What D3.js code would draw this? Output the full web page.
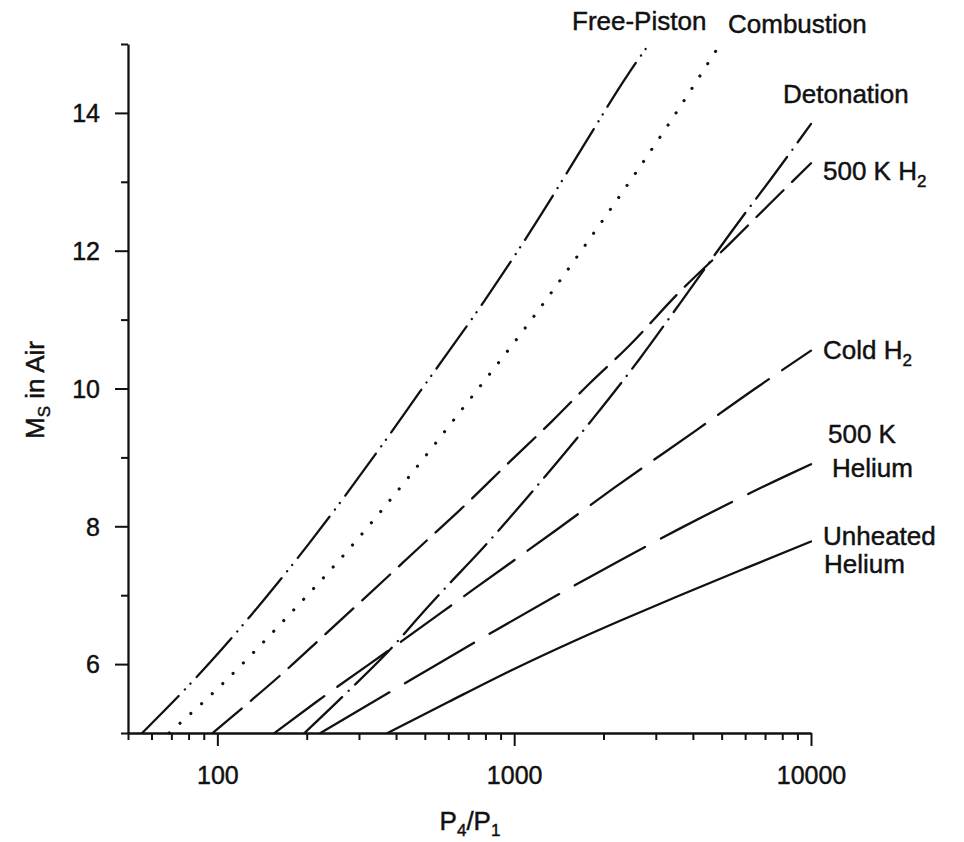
<!DOCTYPE html>
<html><head><meta charset="utf-8">
<script src="https://cdn.jsdelivr.net/npm/d3@7"></script>
<style>
body{margin:0;background:#fff}
text{font-family:"Liberation Sans",Arial,sans-serif;fill:#111;stroke:#111;stroke-width:0.45px}
</style>
</head><body>
<svg id="chart" width="964" height="842"></svg>
<script>
// ---- data (P4/P1 vs shock Mach number Ms in air) ----
const freePistonP = [55.8, 95.2, 129.9, 204.4, 366, 480.6, 796, 1202, 1705, 2419, 2849];
const freePistonM = [5, 6.04, 6.71, 7.76, 9.23, 9.95, 11.28, 12.45, 13.51, 14.56, 15.0];

const combustionP = [68.8, 101.6, 170.6, 279, 433, 665, 1130, 1921, 3354, 4946];
const combustionM = [5, 5.67, 6.67, 7.68, 8.67, 9.69, 10.97, 12.35, 13.87, 15.0];

const detonationP = [196.6, 271.9, 400.9, 474.2, 614.6, 719.6, 1269, 1848, 2656, 3624, 5778, 7295, 10000];
const detonationM = [5, 5.58, 6.31, 6.67, 7.20, 7.51, 8.72, 9.57, 10.44, 11.24, 12.45, 13.03, 13.84];

const h2HotP = [96.4, 125, 168.3, 226.6, 371, 480.6, 672.9, 952, 1337, 1801, 2425, 3624, 5346, 7181, 10000];
const h2HotM = [5, 5.41, 5.89, 6.40, 7.25, 7.70, 8.28, 8.91, 9.52, 10.08, 10.61, 11.41, 12.11, 12.66, 13.27];

const h2ColdP = [155.7, 215.3, 417, 727, 1390, 2159, 4126, 6493, 10000];
const h2ColdM = [5, 5.45, 6.33, 7.08, 7.95, 8.55, 9.40, 10.00, 10.55];

const heHotP = [222.6, 468.4, 849.3, 1565, 3624, 8409, 10000];
const heHotM = [5, 5.82, 6.47, 7.12, 7.97, 8.75, 8.90];

const heColdP = [374.7, 600, 1000, 1600, 2274, 3624, 6000, 10000];
const heColdM = [5, 5.45, 5.93, 6.34, 6.63, 7.00, 7.39, 7.78];

const xTickValues = [50,60,70,80,90,100,200,300,400,500,600,700,800,900,1000,2000,3000,4000,5000,6000,7000,8000,9000,10000];
const xMajor = [100, 1000, 10000];
const yTickValues = [5,6,7,8,9,10,11,12,13,14,15];
const yMajor = [6, 8, 10, 12, 14];

const series = [
  {name:"Free-Piston", P:freePistonP, M:freePistonM, dash:"52 9 0.1 8 0.1 9", w:2.3},
  {name:"Combustion", P:combustionP, M:combustionM, dash:"0.1 14.5", w:3.1},
  {name:"Detonation", P:detonationP, M:detonationM, dash:"52 9 0.1 9", w:2.3},
  {name:"500 K H2", P:h2HotP, M:h2HotM, dash:"38 12", w:2.3},
  {name:"Cold H2", P:h2ColdP, M:h2ColdM, dash:"62 16", w:2.3},
  {name:"500 K Helium", P:heHotP, M:heHotM, dash:"80 18", w:2.3},
  {name:"Unheated Helium", P:heColdP, M:heColdM, dash:null, w:2.3}
];

// ---- drawing ----
const svg = d3.select("#chart");
const x = d3.scaleLog().domain([50, 10000]).range([128, 811]);
const y = d3.scaleLinear().domain([5, 15]).range([733, 44]);

const line = d3.line().x(d => x(d[0])).y(d => y(d[1])).curve(d3.curveMonotoneX);

svg.append("g").selectAll("path").data(series).join("path")
  .attr("d", s => line(s.P.map((p, i) => [p, s.M[i]])))
  .attr("fill", "none")
  .attr("stroke", "#111")
  .attr("stroke-width", s => s.w)
  .attr("stroke-linecap", "round")
  .attr("stroke-dasharray", s => s.dash);

// x axis
const gx = svg.append("g").attr("transform", "translate(0,733)")
  .call(d3.axisBottom(x).tickValues(xTickValues).tickSizeInner(7).tickSizeOuter(0)
    .tickFormat(d => xMajor.includes(d) ? d3.format("d")(d) : ""));
gx.select(".domain").attr("stroke", "#111").attr("stroke-width", 2.3);
gx.selectAll(".tick line").attr("stroke", "#111").attr("stroke-width", 2)
  .attr("y2", d => xMajor.includes(d) ? 13 : 7);
gx.selectAll(".tick text").attr("y", 51).attr("dy", 0)
  .style("font-size", "25px").attr("fill", "#111").attr("font-family", null);

// y axis
const gy = svg.append("g").attr("transform", `translate(${x(50)},0)`)
  .call(d3.axisLeft(y).tickValues(yTickValues).tickSizeInner(6).tickSizeOuter(0)
    .tickFormat(d => yMajor.includes(d) ? d : ""));
gy.select(".domain").attr("stroke", "#111").attr("stroke-width", 2.3);
gy.selectAll(".tick line").attr("stroke", "#111").attr("stroke-width", 2)
  .attr("x2", d => yMajor.includes(d) ? -13 : -7);
gy.selectAll(".tick text").attr("x", -28).attr("dy", "0.35em")
  .style("font-size", "25px").attr("fill", "#111").attr("font-family", null);

// axis titles
const xt = svg.append("text").attr("x", 470).attr("y", 830).attr("text-anchor", "middle")
  .style("font-size", "26px");
xt.append("tspan").text("P");
xt.append("tspan").text("4").attr("dy", 6).style("font-size", "17px");
xt.append("tspan").text("/P").attr("dy", -6);
xt.append("tspan").text("1").attr("dy", 6).style("font-size", "17px");

const yt = svg.append("text").attr("transform", "translate(44,390) rotate(-90)")
  .attr("text-anchor", "middle").style("font-size", "26px");
yt.append("tspan").text("M");
yt.append("tspan").text("S").attr("dy", 6).style("font-size", "17px");
yt.append("tspan").text(" in Air").attr("dy", -6);

// series labels
function label(x0, y0, parts) {
  const t = svg.append("text").attr("x", x0).attr("y", y0).style("font-size", "26px");
  parts.forEach(p => {
    const s = t.append("tspan").text(p.t);
    if (p.sub) s.attr("dy", 7).style("font-size", "17px");
  });
}
label(572, 30, [{t:"Free-Piston"}]);
label(728, 33, [{t:"Combustion"}]);
label(783, 103, [{t:"Detonation"}]);
label(823, 180, [{t:"500 K H"}, {t:"2", sub:true}]);
label(823, 359, [{t:"Cold H"}, {t:"2", sub:true}]);
label(828, 443, [{t:"500 K"}]);
label(832, 477, [{t:"Helium"}]);
label(823, 545, [{t:"Unheated"}]);
label(824, 573, [{t:"Helium"}]);
</script></body></html>
